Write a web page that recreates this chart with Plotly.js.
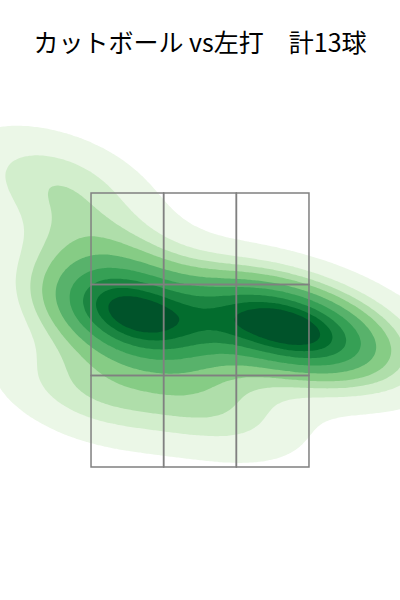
<!DOCTYPE html>
<html>
<head>
<meta charset="utf-8">
<script src="https://cdn.plot.ly/plotly-3.0.1.min.js"></script>
<style>html,body{margin:0;padding:0;background:#fff;}#chart{width:400px;height:600px;}</style>
</head>
<body>
<div id="chart"></div>
<script>
// pitch locations (feet): horizontal position and height
const plateX = [-0.571, -0.510, -0.472, -0.533, 0.419, 0.548, 0.670, 0.761, -1.104, -0.723, -0.838, 0.076, 1.104];
const plateZ = [2.588, 2.566, 2.617, 2.631, 2.588, 2.551, 2.515, 2.486, 3.580, 3.062, 2.062, 1.953, 2.442];
// strike zone grid edges
const zoneX = [-0.83, -0.277, 0.277, 0.83];
const zoneZ = [1.5, 2.167, 2.833, 3.5];
const titleText = "カットボール vs左打　計13球";
const bandColors = ["#ebf7e7", "#d2eecc", "#afdeaa", "#86cc85", "#58b26b", "#36a055", "#1b8541", "#036d2e", "#00532a"];

// Gaussian KDE (Scott's rule, full covariance), as seaborn / scipy
function kde2d(xs, ys, gridsize, cut) {
  const n = xs.length;
  const mx = xs.reduce((a, b) => a + b, 0) / n;
  const my = ys.reduce((a, b) => a + b, 0) / n;
  let sxx = 0, syy = 0, sxy = 0;
  for (let i = 0; i < n; i++) {
    sxx += (xs[i] - mx) ** 2; syy += (ys[i] - my) ** 2; sxy += (xs[i] - mx) * (ys[i] - my);
  }
  sxx /= (n - 1); syy /= (n - 1); sxy /= (n - 1);
  const f = Math.pow(n, -1 / 6), f2 = f * f;
  const cxx = sxx * f2, cyy = syy * f2, cxy = sxy * f2;
  const det = cxx * cyy - cxy * cxy;
  const ixx = cyy / det, iyy = cxx / det, ixy = -cxy / det;
  const bwx = f * Math.sqrt(sxx), bwy = f * Math.sqrt(syy);
  const x0 = Math.min(...xs) - cut * bwx, x1 = Math.max(...xs) + cut * bwx;
  const y0 = Math.min(...ys) - cut * bwy, y1 = Math.max(...ys) + cut * bwy;
  const gx = [], gy = [];
  for (let i = 0; i < gridsize; i++) {
    gx.push(x0 + (x1 - x0) * i / (gridsize - 1));
    gy.push(y0 + (y1 - y0) * i / (gridsize - 1));
  }
  const z = [];
  for (let j = 0; j < gridsize; j++) {
    const row = [];
    for (let i = 0; i < gridsize; i++) {
      let s = 0;
      for (let k = 0; k < n; k++) {
        const dx = gx[i] - xs[k], dy = gy[j] - ys[k];
        s += Math.exp(-0.5 * (ixx * dx * dx + 2 * ixy * dx * dy + iyy * dy * dy));
      }
      row.push(s);
    }
    z.push(row);
  }
  return {gx, gy, z};
}

// density -> iso-proportion (fraction of mass below each value)
function toIsoProp(z) {
  const flat = [];
  z.forEach(r => r.forEach(v => flat.push(v)));
  const sorted = flat.slice().sort((a, b) => b - a);
  const total = flat.reduce((a, b) => a + b, 0);
  const map = new Map();
  let cum = 0;
  for (const v of sorted) { cum += v; if (!map.has(v)) map.set(v, 1 - cum / total); }
  return z.map(r => r.map(v => map.get(v)));
}

const k = kde2d(plateX, plateZ, 200, 3);
const zp = toIsoProp(k.z);

const nLevels = 10, thresh = 0.05;
const step = (1 - thresh) / (nLevels - 1);
const colorscale = [[0, "rgba(255,255,255,0)"]];
bandColors.forEach((c, i) => colorscale.push([(i + 1) / nLevels, c]));
colorscale.push([1, bandColors[bandColors.length - 1]]);

const trace = {
  type: "contour",
  x: k.gx, y: k.gy, z: zp,
  autocontour: false,
  contours: {start: thresh, end: 1.0, size: step, coloring: "fill", showlines: false},
  line: {width: 0, smoothing: 1},
  colorscale: colorscale,
  zmin: thresh - step / 2, zmax: thresh + (nLevels - 0.5) * step,
  showscale: false,
  hoverinfo: "skip"
};

const shapes = [];
for (let i = 0; i < 3; i++) {
  for (let j = 0; j < 3; j++) {
    shapes.push({type: "rect", xref: "x", yref: "y",
      x0: zoneX[i], x1: zoneX[i + 1], y0: zoneZ[j], y1: zoneZ[j + 1],
      line: {color: "#808080", width: 1.5}, fillcolor: "rgba(0,0,0,0)", layer: "above"});
  }
}

const layout = {
  width: 400, height: 600,
  margin: {l: 0, r: 0, t: 80, b: 40},
  paper_bgcolor: "#ffffff", plot_bgcolor: "#ffffff",
  title: {text: titleText, x: 0.5, xanchor: "center", y: 1 - 43 / 600, yanchor: "middle", yref: "container",
    font: {family: "Noto Sans CJK JP, sans-serif", size: 25, color: "#000000"}},
  xaxis: {range: [-1.5232, 1.5232], visible: false, showgrid: false, zeroline: false, fixedrange: true},
  yaxis: {range: [0.8212, 4.3248], visible: false, showgrid: false, zeroline: false, fixedrange: true},
  shapes: shapes,
  showlegend: false
};

Plotly.newPlot("chart", [trace], layout, {staticPlot: true, displayModeBar: false});
</script>
</body>
</html>
